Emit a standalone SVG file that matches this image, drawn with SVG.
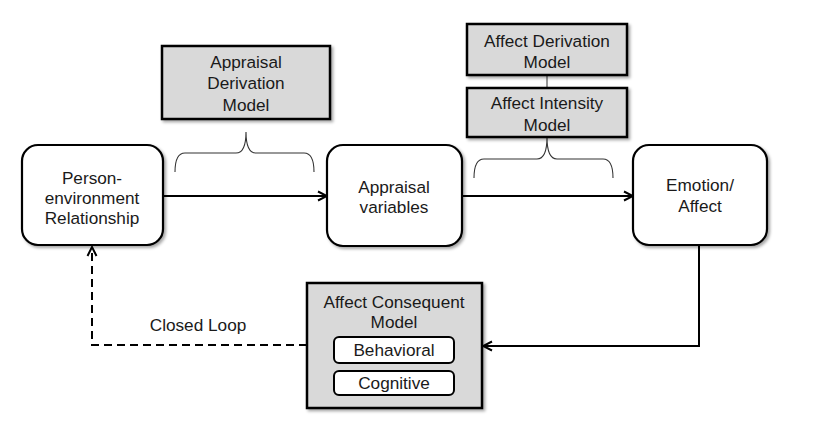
<svg xmlns="http://www.w3.org/2000/svg" width="823" height="435" viewBox="0 0 823 435">
<style>
text{font-family:"Liberation Sans",Arial,sans-serif;font-size:17.2px;fill:#1a1a1a;text-anchor:middle}
.rnode{fill:#fff;stroke:#000;stroke-width:2.2}
.gnode{fill:#d9d9d9;stroke:#000;stroke-width:2.5}
.inner{fill:#fff;stroke:#000;stroke-width:2}
.conn{fill:none;stroke:#000;stroke-width:2}
.brace{fill:none;stroke:#333;stroke-width:1.1}
</style>
<defs>
<filter id="sh" x="-10%" y="-10%" width="130%" height="130%">
<feDropShadow dx="2" dy="2" stdDeviation="1.5" flood-color="#000" flood-opacity="0.35"/>
</filter>
<marker id="arr" viewBox="0 0 12 12" refX="11" refY="6" markerWidth="12" markerHeight="12" markerUnits="userSpaceOnUse" orient="auto">
<polyline points="2,1.5 11,6 2,10.5" fill="none" stroke="#000" stroke-width="2"/>
</marker>
</defs>
<g id="connectors">
<line class="conn" x1="163" y1="196" x2="327" y2="196" marker-end="url(#arr)"/>
<line class="conn" x1="462" y1="196" x2="633" y2="196" marker-end="url(#arr)"/>
<polyline class="conn" points="699,246 699,346 483,346" marker-end="url(#arr)"/>
<polyline class="conn" points="307,345 92,345 92,247" stroke-width="2.3" stroke-dasharray="8,5" marker-end="url(#arr)"/>
<line x1="547" y1="75" x2="547" y2="88" stroke="#555" stroke-width="1.2"/>
<path class="brace" d="M175,172 Q175,153 185,153 L236,153 Q246,153 246,132 Q246,153 256,153 L304,153 Q314,153 314,172"/>
<path class="brace" d="M474,178 Q474,159 484,159 L537,159 Q547,159 547,137 Q547,159 557,159 L603,159 Q613,159 613,178"/>
</g>
<g id="person-environment">
<rect class="rnode" x="22" y="145" width="141" height="100" rx="16" filter="url(#sh)"/>
<text x="92" y="184">Person-</text>
<text x="92" y="204">environment</text>
<text x="92" y="224">Relationship</text>
</g>
<g id="appraisal-variables">
<rect class="rnode" x="327" y="145" width="135" height="101" rx="16" filter="url(#sh)"/>
<text x="394" y="193">Appraisal</text>
<text x="394" y="213">variables</text>
</g>
<g id="emotion-affect">
<rect class="rnode" x="633" y="145" width="134" height="100" rx="16" filter="url(#sh)"/>
<text x="700" y="191">Emotion/</text>
<text x="700" y="212">Affect</text>
</g>
<g id="appraisal-derivation-model">
<rect class="gnode" x="162" y="46" width="168" height="73" filter="url(#sh)"/>
<text x="246" y="68">Appraisal</text>
<text x="246" y="89">Derivation</text>
<text x="246" y="111">Model</text>
</g>
<g id="affect-derivation-model">
<rect class="gnode" x="467" y="24" width="160" height="51" filter="url(#sh)"/>
<text x="547" y="47">Affect Derivation</text>
<text x="547" y="68">Model</text>
</g>
<g id="affect-intensity-model">
<rect class="gnode" x="467" y="88" width="160" height="49" filter="url(#sh)"/>
<text x="547" y="109">Affect Intensity</text>
<text x="547" y="131">Model</text>
</g>
<g id="affect-consequent-model">
<rect class="gnode" x="307" y="283" width="175" height="125" filter="url(#sh)"/>
<text x="394" y="308">Affect Consequent</text>
<text x="394" y="328">Model</text>
<rect class="inner" x="334" y="337" width="120" height="26" rx="5"/>
<text x="394" y="356">Behavioral</text>
<rect class="inner" x="334" y="371" width="120" height="24" rx="5"/>
<text x="394" y="389">Cognitive</text>
</g>
<g id="closed-loop-label">
<text x="198" y="331">Closed Loop</text>
</g>
</svg>
